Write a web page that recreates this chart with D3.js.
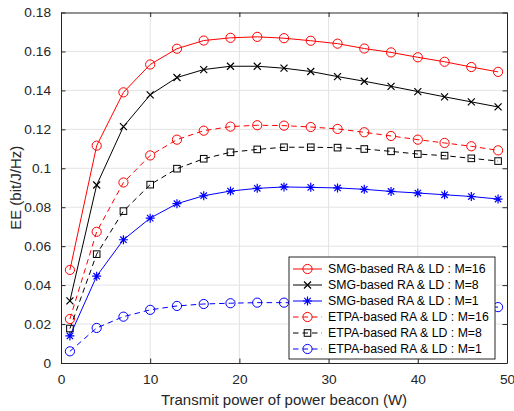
<!DOCTYPE html>
<meta charset="utf-8">
<script src="https://d3js.org/d3.v7.min.js"></script>
<style>
  body { margin: 0; background: #fff; }
  text { font-family: "Liberation Sans", Arial, sans-serif; }
</style>
<div id="chart"></div>
<script>
// data
const power = [1, 4, 7, 10, 13, 16, 19, 22, 25, 28, 31, 34, 37, 40, 43, 46, 49];
const smgM16 = [0.0478, 0.1116, 0.139, 0.1533, 0.1614, 0.1656, 0.167, 0.1675, 0.1668, 0.1655, 0.164, 0.1615, 0.1595, 0.157, 0.1547, 0.152, 0.1495];
const smgM8 = [0.0319, 0.0914, 0.1214, 0.1377, 0.1466, 0.1507, 0.1524, 0.1524, 0.1514, 0.1497, 0.1471, 0.1447, 0.1421, 0.1394, 0.1367, 0.1341, 0.1315];
const smgM1 = [0.0139, 0.0446, 0.0633, 0.0744, 0.0818, 0.0859, 0.0883, 0.0897, 0.0904, 0.0902, 0.0899, 0.0892, 0.0881, 0.0873, 0.0864, 0.0855, 0.0842];
const etpaM16 = [0.0226, 0.0674, 0.0927, 0.1066, 0.1147, 0.1193, 0.1214, 0.1221, 0.1219, 0.1212, 0.1202, 0.1185, 0.1166, 0.1147, 0.113, 0.1113, 0.1092];
const etpaM8 = [0.0177, 0.0559, 0.078, 0.0916, 0.0998, 0.1049, 0.1082, 0.1097, 0.1108, 0.1108, 0.1106, 0.1099, 0.1087, 0.1073, 0.1065, 0.1051, 0.1037];
const etpaM1 = [0.006, 0.018, 0.0238, 0.0273, 0.0293, 0.0303, 0.0307, 0.031, 0.031, 0.0308, 0.0305, 0.0302, 0.0299, 0.0296, 0.0293, 0.029, 0.0287];
const xTicks = [0, 10, 20, 30, 40, 50];
const yTicks = [0, 0.02, 0.04, 0.06, 0.08, 0.1, 0.12, 0.14, 0.16, 0.18];

const series = [
  {name: "SMG-based RA & LD : M=16", values: smgM16, color: "#ff0000", dash: null, marker: "circle"},
  {name: "SMG-based RA & LD : M=8", values: smgM8, color: "#000000", dash: null, marker: "x"},
  {name: "SMG-based RA & LD : M=1", values: smgM1, color: "#0000ff", dash: null, marker: "star"},
  {name: "ETPA-based RA & LD : M=16", values: etpaM16, color: "#ff0000", dash: "5.5,4", marker: "circle"},
  {name: "ETPA-based RA & LD : M=8", values: etpaM8, color: "#000000", dash: "5.5,4", marker: "square"},
  {name: "ETPA-based RA & LD : M=1", values: etpaM1, color: "#0000ff", dash: "5.5,4", marker: "circle"}
];

var margin = {top: 12.5, right: 7, bottom: 48, left: 61},
    W = 514, H = 411,
    width = W - margin.left - margin.right,
    height = H - margin.top - margin.bottom;

var svg = d3.select("#chart").append("svg")
    .attr("width", W).attr("height", H);
var g = svg.append("g")
    .attr("transform", "translate(" + margin.left + "," + margin.top + ")");

var x = d3.scaleLinear().domain([0, 50]).range([0, width]);
var y = d3.scaleLinear().domain([0, 0.18]).range([height, 0]);

var axisCol = "#262626";

// grid
g.append("g").selectAll("line").data(xTicks.slice(1, -1)).enter().append("line")
    .attr("x1", d => x(d)).attr("x2", d => x(d)).attr("y1", 0).attr("y2", height)
    .attr("stroke", "#e3e3e3");
g.append("g").selectAll("line").data(yTicks.slice(1, -1)).enter().append("line")
    .attr("y1", d => y(d)).attr("y2", d => y(d)).attr("x1", 0).attr("x2", width)
    .attr("stroke", "#e3e3e3");

// axes (ticks inside, box on)
function styleAxis(sel) {
  sel.select(".domain").attr("stroke", axisCol);
  sel.selectAll(".tick line").attr("stroke", axisCol);
  sel.selectAll(".tick text").attr("fill", axisCol).style("font-size", "13.7px");
}
var tk = 4.5;
g.append("g").attr("transform", "translate(0," + height + ")")
    .call(d3.axisBottom(x).tickValues(xTicks).tickSizeInner(-tk).tickSizeOuter(0).tickPadding(11))
    .call(styleAxis);
g.append("g")
    .call(d3.axisTop(x).tickValues(xTicks).tickSizeInner(-tk).tickSizeOuter(0).tickFormat(""))
    .call(styleAxis);
g.append("g")
    .call(d3.axisLeft(y).tickValues(yTicks).tickSizeInner(-tk).tickSizeOuter(0).tickPadding(10)
      .tickFormat(d => String(+d.toFixed(2))))
    .call(styleAxis);
g.append("g").attr("transform", "translate(" + width + ",0)")
    .call(d3.axisRight(y).tickValues(yTicks).tickSizeInner(-tk).tickSizeOuter(0).tickFormat(""))
    .call(styleAxis);

// markers
function drawMarker(sel, type, color) {
  if (type === "circle") {
    sel.append("circle").attr("r", 4.6).attr("fill", "none").attr("stroke", color);
  } else if (type === "square") {
    sel.append("rect").attr("x", -3.3).attr("y", -3.3).attr("width", 6.6).attr("height", 6.6)
      .attr("fill", "none").attr("stroke", color);
  } else if (type === "x") {
    sel.append("path").attr("d", "M-3.5,-3.5L3.5,3.5M-3.5,3.5L3.5,-3.5")
      .attr("stroke", color).attr("stroke-width", 1.2);
  } else if (type === "star") {
    sel.append("path").attr("d", "M-4.5,0L4.5,0M0,-4.5L0,4.5M-3.2,-3.2L3.2,3.2M-3.2,3.2L3.2,-3.2")
      .attr("stroke", color).attr("stroke-width", 1.2);
  }
}

var line = d3.line().x(d => x(d[0])).y(d => y(d[1]));

series.forEach(function (s) {
  var pts = power.map((p, i) => [p, s.values[i]]);
  g.append("path").datum(pts)
    .attr("d", line)
    .attr("fill", "none")
    .attr("stroke", s.color)
    .attr("stroke-width", 1)
    .attr("stroke-dasharray", s.dash);
  g.append("g").selectAll("g").data(pts).enter().append("g")
    .attr("transform", d => "translate(" + x(d[0]) + "," + y(d[1]) + ")")
    .each(function () { drawMarker(d3.select(this), s.marker, s.color); });
});

// axis labels
svg.append("text")
    .attr("x", margin.left + width / 2).attr("y", 405)
    .attr("text-anchor", "middle").attr("fill", axisCol).style("font-size", "15px")
    .text("Transmit power of power beacon (W)");
svg.append("text")
    .attr("transform", "translate(21," + (margin.top + height / 2) + ") rotate(-90)")
    .attr("text-anchor", "middle").attr("fill", axisCol).style("font-size", "15px")
    .text("EE (bit/J/Hz)");

// legend
var lg = svg.append("g").attr("transform", "translate(289,257)");
lg.append("rect").attr("width", 206).attr("height", 102)
    .attr("fill", "#fff").attr("stroke", axisCol).attr("stroke-width", 1);
series.forEach(function (s, i) {
  var row = lg.append("g").attr("transform", "translate(0," + (12 + i * 16) + ")");
  row.append("line").attr("x1", 4).attr("x2", 33)
    .attr("stroke", s.color).attr("stroke-width", 1).attr("stroke-dasharray", s.dash);
  var m = row.append("g").attr("transform", "translate(18.5,0)");
  drawMarker(m, s.marker, s.color);
  row.append("text").attr("x", 39).attr("dy", "0.35em")
    .attr("fill", "#000").style("font-size", "12.3px").text(s.name);
});
</script>
